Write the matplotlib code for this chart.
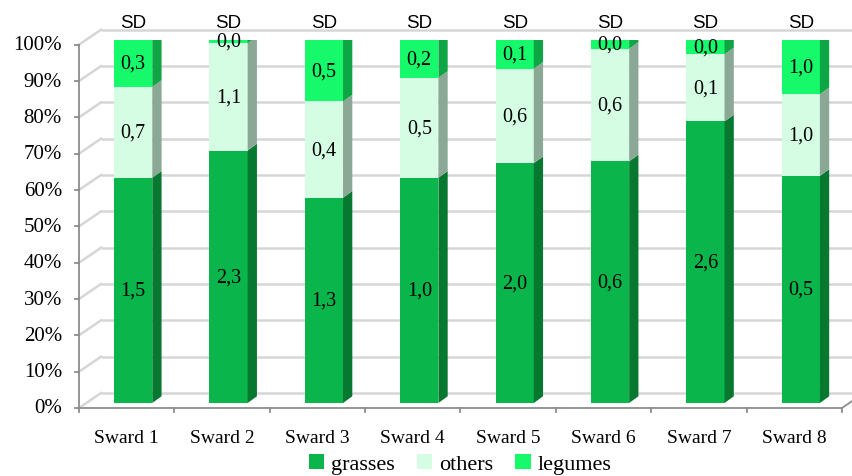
import matplotlib.pyplot as plt
from matplotlib.patches import Polygon, Patch

serif = ['Liberation Serif', 'DejaVu Serif']
plt.rcParams['font.family'] = serif

swards = ["Sward 1", "Sward 2", "Sward 3", "Sward 4", "Sward 5", "Sward 6", "Sward 7", "Sward 8"]
# shares of the sward (%)
grasses = [62.0, 69.5, 56.5, 62.0, 66.0, 66.5, 77.5, 62.5]
others = [25.0, 29.5, 26.5, 27.5, 26.0, 31.0, 18.5, 22.5]
legumes = [13.0, 1.0, 17.0, 10.5, 8.0, 2.5, 4.0, 15.0]
# standard deviations printed on the segments
sd_grasses = [1.5, 2.3, 1.3, 1.0, 2.0, 0.6, 2.6, 0.5]
sd_others = [0.7, 1.1, 0.4, 0.5, 0.6, 0.6, 0.1, 1.0]
sd_legumes = [0.3, 0.0, 0.5, 0.2, 0.1, 0.0, 0.0, 1.0]
yticks = list(range(0, 101, 10))

series = [
    ("grasses", grasses, sd_grasses, "#0ab64b", "#07782f"),
    ("others", others, sd_others, "#d5fde3", "#8ba897"),
    ("legumes", legumes, sd_legumes, "#15f96a", "#0ea644"),
]
top_color = "#0fbf4f"

W, H = 853, 477
fig = plt.figure(figsize=(W / 100, H / 100), dpi=100)
# axes = plane of the bar fronts, in pixels
left_px, bottom_px, width_px, height_px = 85.5, 73.0, 763.0, 363.3
ax = fig.add_axes([left_px / W, bottom_px / H, width_px / W, height_px / H])
n = len(swards)
ax.set_xlim(0.5, n + 0.5)
ax.set_ylim(0, 100)
ax.axis("off")

sx = width_px / n      # px per category
sy = height_px / 100   # px per percent

def px(dx, dy):
    return dx / sx, dy / sy

# offsets of front plane / back plane relative to the bar plane
fx, fy = px(-6.5, -5)
bx, by = px(15.5, 10)
# depth of one bar
dx, dy = px(9.3, 6.7)

grid_c = "#d6d6d6"
axis_c = "#8c8c8c"

# back wall gridlines and left wall diagonals
for t in yticks:
    ax.plot([0.5 + bx, n + 0.5 + bx + 2], [t + by, t + by], color=grid_c, lw=1.8,
            zorder=1, clip_on=False, solid_capstyle="butt")
    ax.plot([0.5 + fx, 0.5 + bx], [t + fy, t + by], color=grid_c, lw=1.8,
            zorder=1, clip_on=False)
# floor right edge
ax.plot([n + 0.5 + fx, n + 0.5 + bx], [fy, by], color=axis_c, lw=1.3, zorder=1, clip_on=False)

# front axes
ax.plot([0.5 + fx, 0.5 + fx], [fy, 100 + fy], color=axis_c, lw=1.3, zorder=5, clip_on=False)
ax.plot([0.5 + fx, n + 0.5 + fx], [fy, fy], color=axis_c, lw=1.3, zorder=5, clip_on=False)
tx, ty = px(4, 4)
gx, _ = px(17, 0)
for k in range(n + 1):
    ax.plot([0.5 + k + fx, 0.5 + k + fx], [fy, fy - ty], color=axis_c, lw=1.3,
            zorder=5, clip_on=False)
for t in yticks:
    ax.plot([0.5 + fx - tx, 0.5 + fx], [t + fy, t + fy], color=axis_c, lw=1.3,
            zorder=5, clip_on=False)
    ax.text(0.5 + fx - gx, t + fy, f"{t}%", ha="right", va="center", fontsize=15)

xs = list(range(1, n + 1))
w = 0.4
bottoms = [0.0] * n
for name, vals, sds, face, side in series:
    ax.bar(xs, vals, bottom=bottoms, width=w, color=face, zorder=3, linewidth=0)
    for i, x in enumerate(xs):
        b, t = bottoms[i], bottoms[i] + vals[i]
        r = x + w / 2
        ax.add_patch(Polygon([(r, b), (r + dx, b + dy), (r + dx, t + dy), (r, t)],
                             closed=True, facecolor=side, edgecolor="none", zorder=3))
        ax.text(x, (b + t) / 2, f"{sds[i]:.1f}".replace(".", ","),
                ha="center", va="center", fontsize=14.5, zorder=6)
    bottoms = [bottoms[i] + vals[i] for i in range(n)]

for i, x in enumerate(xs):
    t = bottoms[i]
    l, r = x - w / 2, x + w / 2
    ax.add_patch(Polygon([(l, t), (l + dx, t + dy), (r + dx, t + dy), (r, t)],
                         closed=True, facecolor=top_color, edgecolor="none", zorder=3))
    ax.text(x, t + 4.8, "SD", ha="center", va="center", fontsize=13.5,
            family=["Liberation Sans", "DejaVu Sans"], zorder=6)
    ax.text(x + fx, fy - 8, swards[i], ha="center", va="center", fontsize=14)

handles = [Patch(facecolor=s[3], edgecolor="none", label=s[0]) for s in series]
fig.legend(handles=handles, loc="center", bbox_to_anchor=(460 / W, 1 - 465 / H),
           ncol=3, frameon=False, prop={"family": serif, "size": 16},
           handlelength=0.7, handleheight=0.7, handletextpad=0.3,
           columnspacing=1.0, borderpad=0)

fig.savefig("out.png", dpi=100)
